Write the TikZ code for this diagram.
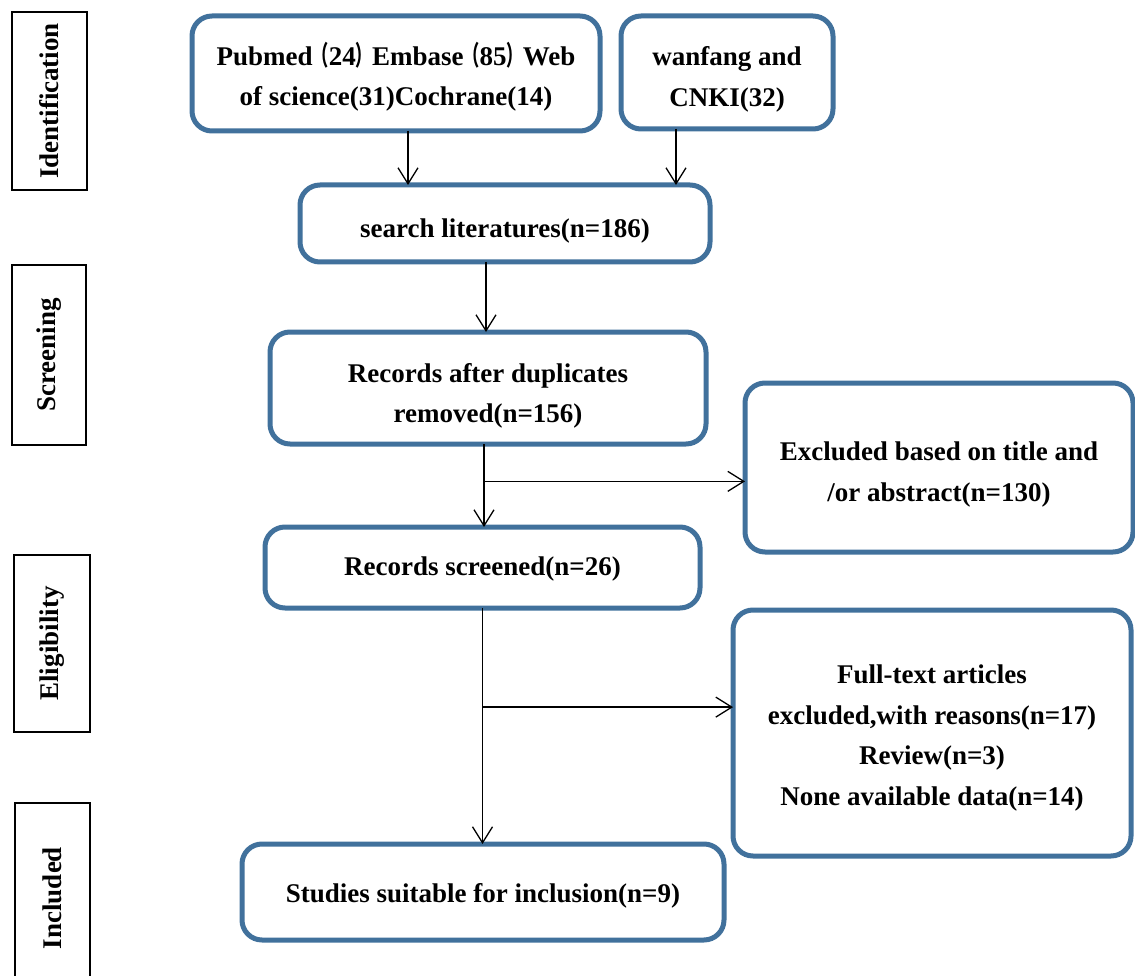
\documentclass[tikz,border=0pt]{standalone}
\usepackage{fontspec}
\setmainfont{Liberation Serif}
\newfontfamily\cjk{Noto Sans CJK SC}
\usetikzlibrary{arrows.meta,positioning,calc}
\definecolor{boxBlue}{RGB}{65,113,156}
\newcommand{\wideL}{\scalebox{0.6}[1]{\cjk （}}
\newcommand{\wideR}{\scalebox{0.6}[1]{\cjk ）}}

\begin{document}
\begin{tikzpicture}[x=1pt,y=-1pt,>={Straight Barb[length=16pt,width=20pt]},line width=1.3pt]

\tikzset{
	flowBox/.style={
		draw=boxBlue,
		line width=5pt,
		rounded corners=20pt,
		fill=white,
		inner sep=0pt,
		outer sep=0pt,
		align=center,
		anchor=north west,
		font=\fontsize{27}{40.5}\selectfont\bfseries
	}
}

\tikzset{
	textDrop/.style={
		execute at begin node={\rule{0pt}{#1}}
	}
}

\tikzset{
	phaseBox/.style={
		draw=black,
		line width=1.8pt,
		inner sep=0pt,
		outer sep=0pt,
		rotate=90,
		font=\fontsize{27}{30}\selectfont\bfseries
	}
}

\tikzset{
	flowArrow/.style={
		->,
		line width=1.3pt
	}
}

\clip (0,0) rectangle (1135,976);

% phase labels
\node[phaseBox, minimum width=178pt, minimum height=75pt](identLbl) at (49.5,101) {Identification};
\node[phaseBox, minimum width=180pt, minimum height=74pt](screenLbl) at (49,355) {Screening};
\node[phaseBox, minimum width=177pt, minimum height=76pt](eligLbl) at (52,643.5) {Eligibility};
\node[phaseBox, minimum width=190pt, minimum height=75pt](inclLbl) at (52.5,898) {Included};

% flow boxes
\node[flowBox, textDrop=70pt, minimum width=408pt, minimum height=115pt](dbSearch) at (192,16)
	{Pubmed\wideL 24\wideR Embase\wideL 85\wideR Web\\of science(31)Cochrane(14)};
\node[flowBox, textDrop=73pt, minimum width=212pt, minimum height=113pt](cnSearch) [below right=0pt and 21pt of dbSearch.north east]
	{wanfang and\\CNKI(32)};
\node[flowBox, textDrop=34pt, minimum width=410pt, minimum height=77pt](allLit) [below right=54pt and 108pt of dbSearch.south west]
	{search literatures(n=186)};
\node[flowBox, textDrop=75pt, minimum width=436pt, minimum height=112pt](noDup) [below right=70pt and -30pt of allLit.south west]
	{Records after duplicates\\removed(n=156)};
\node[flowBox, textDrop=73pt, minimum width=388pt, minimum height=169pt](exclAbs) [below right=51pt and 39pt of noDup.north east]
	{Excluded based on title and\\/or abstract(n=130)};
\node[flowBox, textDrop=22.5pt, minimum width=435pt, minimum height=81pt](screened) [below right=83pt and -5pt of noDup.south west]
	{Records screened(n=26)};
\node[flowBox, textDrop=150pt, minimum width=398pt, minimum height=246pt](exclFull) [below right=83pt and 33pt of screened.north east]
	{Full-text articles\\excluded,with reasons(n=17)\\Review(n=3)\\None available data(n=14)};
\node[flowBox, textDrop=26.5pt, minimum width=482pt, minimum height=96pt](included) [below right=236pt and -23pt of screened.south west]
	{Studies suitable for inclusion(n=9)};

% branch points
\coordinate (split1) at ($([xshift=-4pt]noDup.south)!0.45!([xshift=-4pt]noDup.south |- screened.north)$);
\coordinate (split2) at ($(screened.south)!0.42!(screened.south |- included.north)$);

% connectors
\draw[flowArrow] ([xshift=12pt]dbSearch.south) -- ([xshift=12pt]dbSearch.south |- allLit.north);
\draw[flowArrow] ([xshift=-51pt]cnSearch.south) -- ([xshift=-51pt]cnSearch.south |- allLit.north);
\draw[flowArrow] ([xshift=-19pt]allLit.south) -- ([xshift=-19pt]allLit.south |- noDup.north);
\draw[flowArrow] ([xshift=-4pt]noDup.south) -- ([xshift=-4pt]noDup.south |- screened.north);
\draw[flowArrow] (split1) -- (split1 -| exclAbs.west);
\draw[flowArrow] (screened.south) -- (screened.south |- included.north);
\draw[flowArrow] (split2) -- (split2 -| exclFull.west);

\end{tikzpicture}
\end{document}
